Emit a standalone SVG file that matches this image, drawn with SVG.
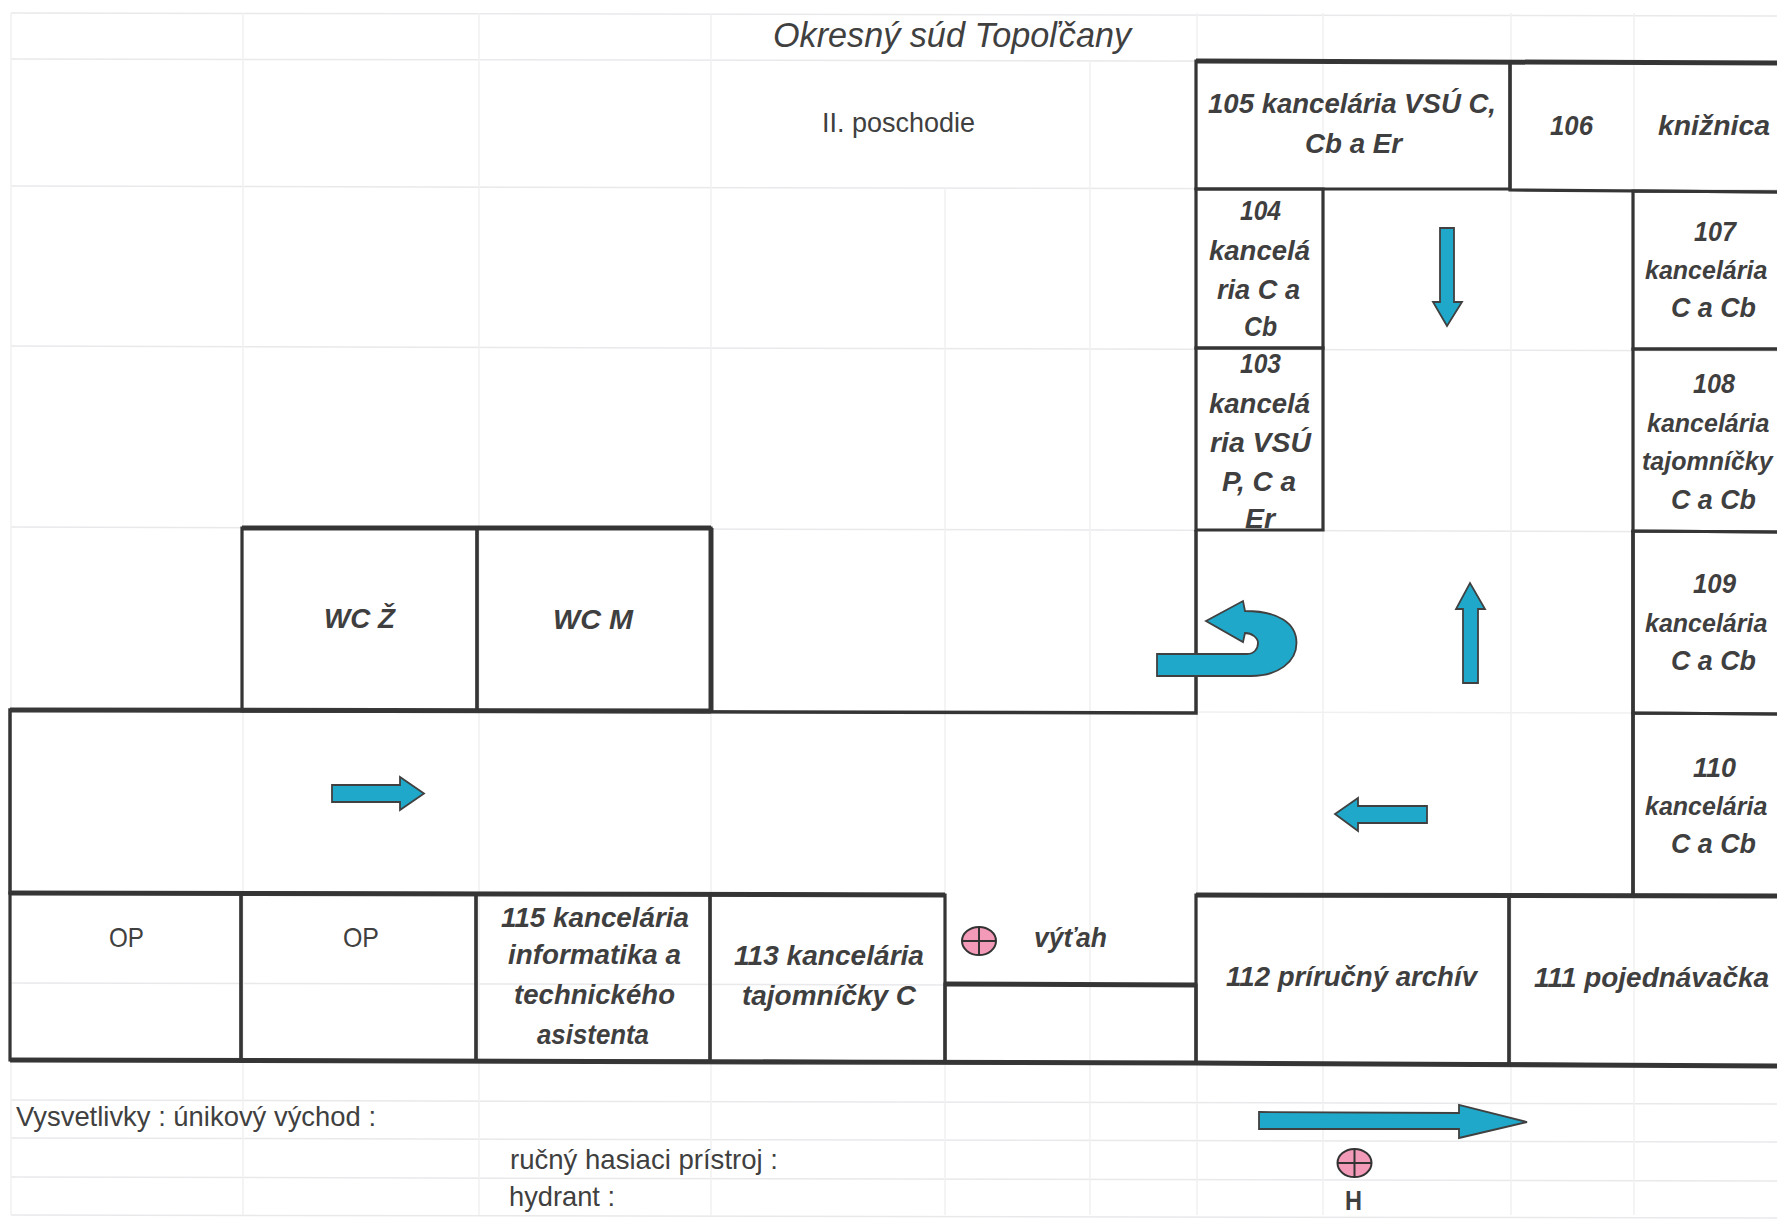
<svg xmlns="http://www.w3.org/2000/svg" width="1777" height="1219" viewBox="0 0 1777 1219">
<style>
.grid line{stroke:#f0f0f1;stroke-width:1.5}
.grid line.h{stroke:#e9e9ec}
.wall{fill:none;stroke:#353535;stroke-width:3.5;stroke-linejoin:miter}
.thick{fill:none;stroke:#383838;stroke-width:5}
.room{fill:none;stroke:#353535;stroke-width:3.2;stroke-linejoin:miter}
.lbl{font-family:"Liberation Sans",Arial,sans-serif;font-size:28px;font-weight:bold;font-style:italic;fill:#3f3f3f}
.lbl.fit{font-size:25px}
.reg{font-family:"Liberation Sans",Arial,sans-serif;font-size:28px;fill:#404040}
.arrow{fill:#1fa8c9;stroke:#404040;stroke-width:1.8;stroke-linejoin:miter}
.ext{fill:#f39ab8;stroke:#333;stroke-width:2}
.cross{stroke:#333;stroke-width:2}
</style>
<defs>
<g id="extinguisher"><ellipse class="ext" cx="0" cy="0" rx="17" ry="14"/><line class="cross" x1="-17" y1="0" x2="17" y2="0"/><line class="cross" x1="0" y1="-14" x2="0" y2="14"/></g>
</defs>
<rect width="1777" height="1219" fill="#ffffff"/>
<g class="grid" id="grid">
<line class="h" x1="11" y1="13" x2="1777" y2="16"/><line class="h" x1="11" y1="59" x2="1777" y2="62"/><line class="h" x1="11" y1="186" x2="1777" y2="190"/><line class="h" x1="11" y1="346" x2="1777" y2="351"/><line class="h" x1="11" y1="527" x2="1777" y2="532"/><line x1="1196" y1="712" x2="1633" y2="713"/><line class="h" x1="11" y1="983" x2="945" y2="985"/><line class="h" x1="11" y1="1100" x2="1777" y2="1104"/><line class="h" x1="11" y1="1138" x2="1777" y2="1142"/><line class="h" x1="11" y1="1177" x2="1777" y2="1181"/><line class="h" x1="11" y1="1215" x2="1777" y2="1218"/>
<line x1="11" y1="13" x2="11" y2="1215"/><line x1="243" y1="13" x2="243" y2="1215"/><line x1="479" y1="13" x2="479" y2="1215"/><line x1="711" y1="13" x2="711" y2="1215"/><line x1="945" y1="188" x2="945" y2="1215"/><line x1="1090" y1="60" x2="1090" y2="1215"/><line x1="1197" y1="13" x2="1197" y2="1215"/><line x1="1323" y1="13" x2="1323" y2="1215"/><line x1="1511" y1="13" x2="1511" y2="1215"/><line x1="1634" y1="13" x2="1634" y2="1215"/>
</g>
<g id="walls">
<polyline class="wall" points="1196,530 1196,713 10,710 10,893 945,895"/>
<line class="wall" x1="1633" y1="530" x2="1633" y2="896"/>
<polyline class="thick" points="10,1060 1196,1063 1780,1066"/>
<line class="thick" x1="10" y1="893" x2="945" y2="895"/>
<line class="thick" x1="1196" y1="895" x2="1780" y2="896"/>
<line class="thick" x1="242" y1="528" x2="711" y2="528"/>
<line class="thick" x1="10" y1="710" x2="711" y2="711"/>
<line class="thick" x1="711" y1="528" x2="711" y2="711"/>
<line class="thick" x1="1196" y1="61" x2="1780" y2="63"/>
<line class="thick" x1="945" y1="984" x2="1196" y2="985"/>
</g>
<g id="title"><text class="reg" style="font-style:italic;font-size:35px" x="773" y="47" textLength="358" lengthAdjust="spacingAndGlyphs">Okresný súd Topoľčany</text></g>
<g id="floor"><text class="reg" x="822" y="132" textLength="153" lengthAdjust="spacingAndGlyphs">II. poschodie</text></g>
<g id="room-105"><polygon class="room" points="1196,61 1510,62 1510,189 1196,189"/><text class="lbl" x="1208" y="113" textLength="288" lengthAdjust="spacingAndGlyphs">105 kancelária VSÚ C,</text><text class="lbl" x="1305" y="153" textLength="97" lengthAdjust="spacingAndGlyphs">Cb a Er</text></g>
<g id="room-106"><polygon class="room" points="1510,62 1780,63 1780,192 1510,190"/><text class="lbl" x="1550" y="135" textLength="43" lengthAdjust="spacingAndGlyphs">106</text><text class="lbl" x="1658" y="135" textLength="112" lengthAdjust="spacingAndGlyphs">knižnica</text></g>
<g id="room-104"><polygon class="room" points="1196,189 1323,189 1323,348 1196,348"/><text class="lbl" x="1240" y="220" textLength="41" lengthAdjust="spacingAndGlyphs">104</text><text class="lbl" x="1209" y="260" textLength="101" lengthAdjust="spacingAndGlyphs">kancelá</text><text class="lbl" x="1217" y="299" textLength="83" lengthAdjust="spacingAndGlyphs">ria C a</text><text class="lbl" x="1244" y="336" textLength="33" lengthAdjust="spacingAndGlyphs">Cb</text></g>
<g id="room-103"><polygon class="room" points="1196,348 1323,348 1323,530 1196,530"/><text class="lbl" x="1240" y="373" textLength="41" lengthAdjust="spacingAndGlyphs">103</text><text class="lbl" x="1209" y="413" textLength="101" lengthAdjust="spacingAndGlyphs">kancelá</text><text class="lbl" x="1210" y="452" textLength="101" lengthAdjust="spacingAndGlyphs">ria VSÚ</text><text class="lbl" x="1222" y="491" textLength="74" lengthAdjust="spacingAndGlyphs">P, C a</text><text class="lbl" x="1245" y="528" textLength="30" lengthAdjust="spacingAndGlyphs">Er</text></g>
<g id="room-107"><polygon class="room" points="1633,191 1780,192 1780,349 1633,349"/><text class="lbl" x="1694" y="241" textLength="42" lengthAdjust="spacingAndGlyphs">107</text><text class="lbl fit" x="1645" y="279">kancelária</text><text class="lbl" x="1671" y="317" textLength="85" lengthAdjust="spacingAndGlyphs">C a Cb</text></g>
<g id="room-108"><polygon class="room" points="1633,349 1780,349 1780,532 1633,531"/><text class="lbl" x="1693" y="393" textLength="42" lengthAdjust="spacingAndGlyphs">108</text><text class="lbl fit" x="1647" y="432">kancelária</text><text class="lbl fit" x="1642" y="470">tajomníčky</text><text class="lbl" x="1671" y="509" textLength="85" lengthAdjust="spacingAndGlyphs">C a Cb</text></g>
<g id="room-109"><polygon class="room" points="1633,531 1780,532 1780,714 1633,713"/><text class="lbl" x="1693" y="593" textLength="43" lengthAdjust="spacingAndGlyphs">109</text><text class="lbl fit" x="1645" y="632">kancelária</text><text class="lbl" x="1671" y="670" textLength="85" lengthAdjust="spacingAndGlyphs">C a Cb</text></g>
<g id="room-110"><polygon class="room" points="1633,713 1780,714 1780,896 1633,895"/><text class="lbl" x="1693" y="777" textLength="43" lengthAdjust="spacingAndGlyphs">110</text><text class="lbl fit" x="1645" y="815">kancelária</text><text class="lbl" x="1671" y="853" textLength="85" lengthAdjust="spacingAndGlyphs">C a Cb</text></g>
<g id="room-wc-z"><polygon class="room" points="242,528 477,528 477,711 242,711"/><text class="lbl" x="324" y="628" textLength="71" lengthAdjust="spacingAndGlyphs">WC Ž</text></g>
<g id="room-wc-m"><polygon class="room" points="477,528 711,528 711,711 477,711"/><text class="lbl" x="553" y="629" textLength="80" lengthAdjust="spacingAndGlyphs">WC M</text></g>
<g id="room-op-1"><polygon class="room" points="10,893 241,893 241,1060 10,1060"/><text class="reg" x="109" y="947" textLength="35" lengthAdjust="spacingAndGlyphs">OP</text></g>
<g id="room-op-2"><polygon class="room" points="241,893 476,893.5 476,1061 241,1060"/><text class="reg" x="343" y="947" textLength="36" lengthAdjust="spacingAndGlyphs">OP</text></g>
<g id="room-115"><polygon class="room" points="476,893.5 710,894 710,1061 476,1061"/><text class="lbl" x="501" y="927" textLength="188" lengthAdjust="spacingAndGlyphs">115 kancelária</text><text class="lbl" x="508" y="964" textLength="173" lengthAdjust="spacingAndGlyphs">informatika a</text><text class="lbl" x="514" y="1004" textLength="161" lengthAdjust="spacingAndGlyphs">technického</text><text class="lbl" x="537" y="1044" textLength="112" lengthAdjust="spacingAndGlyphs">asistenta</text></g>
<g id="room-113"><polygon class="room" points="710,894 945,895 945,1062 710,1061"/><text class="lbl" x="734" y="965" textLength="190" lengthAdjust="spacingAndGlyphs">113 kancelária</text><text class="lbl" x="742" y="1005" textLength="174" lengthAdjust="spacingAndGlyphs">tajomníčky C</text></g>
<g id="room-vytah"><text class="lbl" x="1034" y="947" textLength="73" lengthAdjust="spacingAndGlyphs">výťah</text></g>
<g id="room-under-vytah"><polygon class="room" points="945,984 1196,985 1196,1063 945,1062"/></g>
<g id="extinguisher-floor"><use href="#extinguisher" x="979" y="941"/></g>
<g id="room-112"><polygon class="room" points="1196,895 1509,896 1509,1064 1196,1063"/><text class="lbl" x="1226" y="986" textLength="251" lengthAdjust="spacingAndGlyphs">112 príručný archív</text></g>
<g id="room-111"><polygon class="room" points="1509,896 1780,896 1780,1066 1509,1064"/><text class="lbl" x="1534" y="987" textLength="235" lengthAdjust="spacingAndGlyphs">111 pojednávačka</text></g>
<g id="connectors">
<polygon class="arrow" points="332,785 400,785 400,777 424,793.5 400,810 400,802 332,802"/>
<polygon class="arrow" points="1427,806 1358,806 1358,798 1335,814 1358,831 1358,823 1427,823"/>
<polygon class="arrow" points="1463,683 1463,609 1456,609 1470,583 1485,609 1478,609 1478,683"/>
<polygon class="arrow" points="1440,228 1454,228 1454,302 1462,302 1447,326 1433,302 1440,302"/>
<polygon class="arrow" points="1259,1112 1459,1113 1459,1105 1527,1122 1459,1138 1459,1129 1259,1129"/>
<path class="arrow" d="M1157 654 L1247 654 C1254 654 1258 649 1258 643 C1258 638 1252 633 1245 633 L1243 642 L1206 621 L1243 601 L1245 611 C1278 611 1296.5 623 1296.5 643 C1296.5 662 1278 676 1251 676 L1157 676 Z"/>
</g>
<g id="legend">
<text class="reg" x="16" y="1126" textLength="360" lengthAdjust="spacingAndGlyphs">Vysvetlivky : únikový východ :</text>
<text class="reg" x="510" y="1169" textLength="268" lengthAdjust="spacingAndGlyphs">ručný hasiaci prístroj :</text>
<text class="reg" x="509" y="1206" textLength="106" lengthAdjust="spacingAndGlyphs">hydrant :</text>
<use href="#extinguisher" x="1354.5" y="1163"/>
<text class="reg" style="font-weight:bold" x="1345" y="1210" textLength="17" lengthAdjust="spacingAndGlyphs">H</text>
</g>
</svg>
